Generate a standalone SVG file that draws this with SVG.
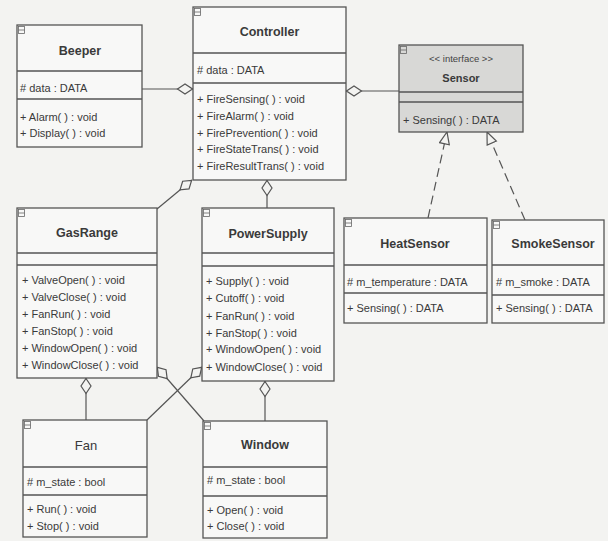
<svg xmlns="http://www.w3.org/2000/svg" width="608" height="541" viewBox="0 0 608 541">
<style>
.bg{fill:#f3f3f1}
.box{fill:#f8f8f7;stroke:#555;stroke-width:1.3}
.gray{fill:#d8d8d6;stroke:#555;stroke-width:1.3}
.div{stroke:#555;stroke-width:1.3}
.ic{fill:none;stroke:#666;stroke-width:0.8}
.nm{font-family:"Liberation Sans",Arial,sans-serif;font-size:12.5px;font-weight:bold;fill:#3a3a3a;text-anchor:middle}
.tx{font-family:"Liberation Sans",Arial,sans-serif;font-size:11px;fill:#3a3a3a}
.st{font-family:"Liberation Sans",Arial,sans-serif;font-size:9.5px;fill:#444;text-anchor:middle}
.ln{fill:none;stroke:#555;stroke-width:1.2}
.dash{fill:none;stroke:#555;stroke-width:1.2;stroke-dasharray:9 5}
</style>
<defs>
<marker id="dia" markerUnits="userSpaceOnUse" markerWidth="18" markerHeight="12" refX="0" refY="6" orient="auto" viewBox="0 0 18 12">
<path d="M0.5,6 L8,1 L15.5,6 L8,11 Z" fill="#f3f3f1" stroke="#555" stroke-width="1.2"/>
</marker>
<marker id="tri" markerUnits="userSpaceOnUse" markerWidth="14" markerHeight="12" refX="13" refY="6" orient="auto" viewBox="0 0 14 12">
<path d="M1,1 L13,6 L1,11 Z" fill="#f3f3f1" stroke="#555" stroke-width="1.2"/>
</marker>
</defs>
<rect class="bg" x="0" y="0" width="608" height="541"/>

<g id="connectors">
<path class="ln" d="M193,89 L142,89" marker-start="url(#dia)"/>
<path class="ln" d="M346,91 L399,91" marker-start="url(#dia)"/>
<path class="ln" d="M192,180 L157,209" marker-start="url(#dia)"/>
<path class="ln" d="M267,180 L267,208" marker-start="url(#dia)"/>
<path class="ln" d="M86,378 L86,420" marker-start="url(#dia)"/>
<path class="ln" d="M265,381 L265,421" marker-start="url(#dia)"/>
<path class="ln" d="M157,367 L204,421" marker-start="url(#dia)"/>
<path class="ln" d="M202,367 L147,420" marker-start="url(#dia)"/>
<path class="dash" d="M428,218 L447,132" marker-end="url(#tri)"/>
<path class="dash" d="M525,220 L487,132" marker-end="url(#tri)"/>
</g>

<g id="Beeper">
<rect class="box" x="17" y="25" width="125" height="122"/>
<line class="div" x1="17" y1="71" x2="142" y2="71"/>
<line class="div" x1="17" y1="99" x2="142" y2="99"/>
<rect class="ic" x="18.5" y="26.5" width="6" height="7"/><line class="ic" x1="18.5" y1="30" x2="24.5" y2="30"/>
<text class="nm" x="80" y="54.5">Beeper</text>
<text class="tx" x="20" y="92"># data : DATA</text>
<text class="tx" x="20" y="121">+ Alarm( ) : void</text>
<text class="tx" x="20" y="137">+ Display( ) : void</text>
</g>

<g id="Controller">
<rect class="box" x="193" y="7" width="153" height="173"/>
<line class="div" x1="193" y1="53" x2="346" y2="53"/>
<line class="div" x1="193" y1="83" x2="346" y2="83"/>
<rect class="ic" x="194.5" y="8.5" width="6" height="7"/><line class="ic" x1="194.5" y1="12" x2="200.5" y2="12"/>
<text class="nm" x="269.5" y="36">Controller</text>
<text class="tx" x="197" y="74"># data : DATA</text>
<text class="tx" x="197" y="103">+ FireSensing( ) : void</text>
<text class="tx" x="197" y="120">+ FireAlarm( ) : void</text>
<text class="tx" x="197" y="137">+ FirePrevention( ) : void</text>
<text class="tx" x="197" y="153">+ FireStateTrans( ) : void</text>
<text class="tx" x="197" y="170">+ FireResultTrans( ) : void</text>
</g>

<g id="Sensor">
<rect class="gray" x="399" y="45" width="124" height="87"/>
<line class="div" x1="399" y1="92" x2="523" y2="92"/>
<line class="div" x1="399" y1="102" x2="523" y2="102"/>
<rect class="ic" x="400.5" y="46.5" width="6" height="7"/><line class="ic" x1="400.5" y1="50" x2="406.5" y2="50"/>
<text class="st" x="461" y="62">&lt;&lt; interface &gt;&gt;</text>
<text class="nm" x="461" y="82" style="font-size:11px">Sensor</text>
<text class="tx" x="403" y="124">+ Sensing( ) : DATA</text>
</g>

<g id="GasRange">
<rect class="box" x="17" y="208" width="140" height="170"/>
<line class="div" x1="17" y1="253" x2="157" y2="253"/>
<line class="div" x1="17" y1="265" x2="157" y2="265"/>
<rect class="ic" x="18.5" y="209.5" width="6" height="7"/><line class="ic" x1="18.5" y1="213" x2="24.5" y2="213"/>
<text class="nm" x="87" y="236.5">GasRange</text>
<text class="tx" x="22" y="284">+ ValveOpen( ) : void</text>
<text class="tx" x="22" y="301">+ ValveClose( ) : void</text>
<text class="tx" x="22" y="318">+ FanRun( ) : void</text>
<text class="tx" x="22" y="335">+ FanStop( ) : void</text>
<text class="tx" x="22" y="352">+ WindowOpen( ) : void</text>
<text class="tx" x="22" y="369">+ WindowClose( ) : void</text>
</g>

<g id="PowerSupply">
<rect class="box" x="202" y="208" width="132" height="173"/>
<line class="div" x1="202" y1="253" x2="334" y2="253"/>
<line class="div" x1="202" y1="266" x2="334" y2="266"/>
<rect class="ic" x="203.5" y="209.5" width="6" height="7"/><line class="ic" x1="203.5" y1="213" x2="209.5" y2="213"/>
<text class="nm" x="268" y="237.5">PowerSupply</text>
<text class="tx" x="206" y="285">+ Supply( ) : void</text>
<text class="tx" x="206" y="302">+ Cutoff( ) : void</text>
<text class="tx" x="206" y="320">+ FanRun( ) : void</text>
<text class="tx" x="206" y="337">+ FanStop( ) : void</text>
<text class="tx" x="206" y="353">+ WindowOpen( ) : void</text>
<text class="tx" x="206" y="371">+ WindowClose( ) : void</text>
</g>

<g id="HeatSensor">
<rect class="box" x="344" y="218" width="143" height="105"/>
<line class="div" x1="344" y1="265" x2="487" y2="265"/>
<line class="div" x1="344" y1="293" x2="487" y2="293"/>
<rect class="ic" x="345.5" y="219.5" width="6" height="7"/><line class="ic" x1="345.5" y1="223" x2="351.5" y2="223"/>
<text class="nm" x="415" y="247.5">HeatSensor</text>
<text class="tx" x="347" y="286"># m_temperature : DATA</text>
<text class="tx" x="347" y="312">+ Sensing( ) : DATA</text>
</g>

<g id="SmokeSensor">
<rect class="box" x="492" y="220" width="112" height="103"/>
<line class="div" x1="492" y1="265" x2="604" y2="265"/>
<line class="div" x1="492" y1="295" x2="604" y2="295"/>
<rect class="ic" x="493.5" y="221.5" width="6" height="7"/><line class="ic" x1="493.5" y1="225" x2="499.5" y2="225"/>
<text class="nm" x="553" y="248">SmokeSensor</text>
<text class="tx" x="496" y="286"># m_smoke : DATA</text>
<text class="tx" x="496" y="312">+ Sensing( ) : DATA</text>
</g>

<g id="Fan">
<rect class="box" x="23" y="420" width="124" height="117"/>
<line class="div" x1="23" y1="467" x2="147" y2="467"/>
<line class="div" x1="23" y1="495" x2="147" y2="495"/>
<rect class="ic" x="24.5" y="421.5" width="6" height="7"/><line class="ic" x1="24.5" y1="425" x2="30.5" y2="425"/>
<text class="nm" x="86" y="449.5" style="font-weight:normal;font-size:13px">Fan</text>
<text class="tx" x="27" y="486"># m_state : bool</text>
<text class="tx" x="27" y="513">+ Run( ) : void</text>
<text class="tx" x="27" y="530">+ Stop( ) : void</text>
</g>

<g id="Window">
<rect class="box" x="203" y="421" width="124" height="117"/>
<line class="div" x1="203" y1="467" x2="327" y2="467"/>
<line class="div" x1="203" y1="496" x2="327" y2="496"/>
<rect class="ic" x="204.5" y="422.5" width="6" height="7"/><line class="ic" x1="204.5" y1="426" x2="210.5" y2="426"/>
<text class="nm" x="265" y="448.5">Window</text>
<text class="tx" x="207" y="484"># m_state : bool</text>
<text class="tx" x="207" y="514">+ Open( ) : void</text>
<text class="tx" x="207" y="530">+ Close( ) : void</text>
</g>
</svg>
